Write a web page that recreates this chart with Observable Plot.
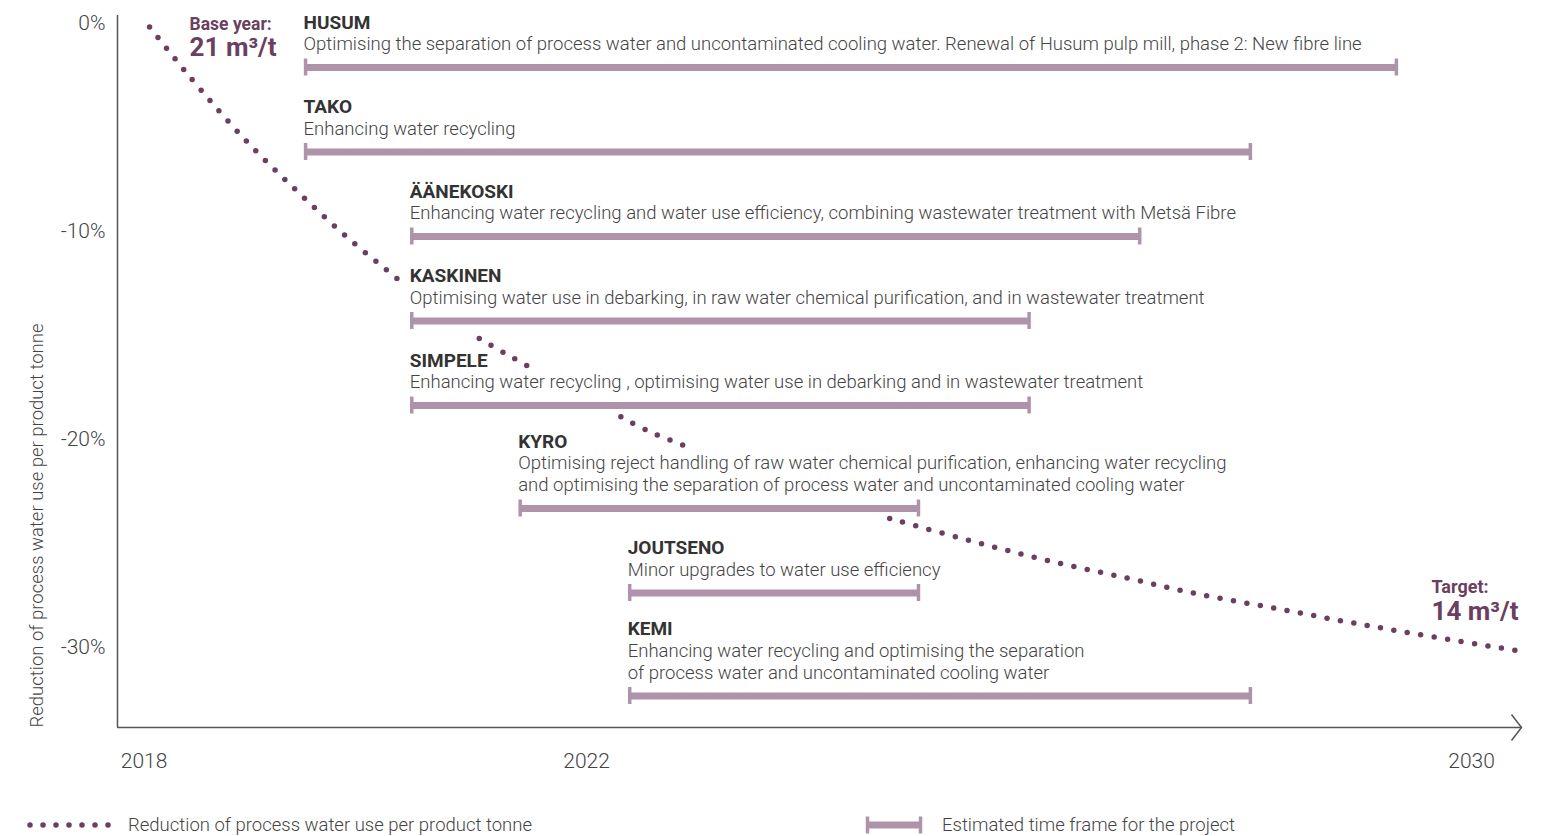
<!DOCTYPE html>
<html><head><meta charset="utf-8">
<script src="https://cdn.jsdelivr.net/npm/d3@7"></script>
<script src="https://cdn.jsdelivr.net/npm/@observablehq/plot@0.6"></script>
<style>
body{margin:0;background:#fff;font-family:Roboto, sans-serif;}
#chart{position:absolute;left:0;top:0;}
.leg{position:absolute;top:812px;height:26px;display:flex;align-items:center;font-size:18.5px;font-weight:300;color:#444;font-family:Roboto,sans-serif;}
</style></head><body>
<div id="chart"></div>
<div class="leg" style="left:24px"><svg width="100" height="26" style="margin-right:4px"><line x1="6" x2="96" y1="13" y2="13" stroke="#6b3f60" stroke-width="5.5" stroke-linecap="round" stroke-dasharray="0 13"/></svg>Reduction of process water use per product tonne</div>
<div class="leg" style="left:862px"><svg width="80" height="26"><line x1="5.5" x2="58.5" y1="13" y2="13" stroke="#ae93aa" stroke-width="7"/><line x1="5.5" x2="5.5" y1="4.5" y2="21.5" stroke="#ae93aa" stroke-width="3.5"/><line x1="58.5" x2="58.5" y1="4.5" y2="21.5" stroke="#ae93aa" stroke-width="3.5"/></svg>Estimated time frame for the project</div>
<script>
// Reduction curve (year, % change), segments separated where the chart leaves gaps
const curveSegment = [1,1,1,1,1,1,1, 2,2,2, 3,3,3, 4,4,4,4,4,4,4,4,4];
const curveYear = [2018.05,2018.28,2018.52,2018.93,2019.37,2019.82,2020.30,
  2021.03,2021.25,2021.46,
  2022.31,2022.55,2022.91,
  2024.74,2025.46,2026.17,2026.90,2027.50,2028.23,2028.95,2029.68,2030.46];
const curveValue = [-0.2,-1.73,-3.26,-5.71,-8.02,-10.23,-12.34,
  -15.17,-15.84,-16.47,
  -18.92,-19.59,-20.36,
  -23.81,-24.87,-25.83,-26.69,-27.41,-28.13,-28.85,-29.52,-30.20];

// Projects
const projectName = ["HUSUM","TAKO","ÄÄNEKOSKI","KASKINEN","SIMPELE","KYRO","JOUTSENO","KEMI"];
const projectStart = [2019.46,2019.46,2020.42,2020.42,2020.42,2021.40,2022.39,2022.39];
const projectEnd = [2029.32,2028.0,2027.0,2026.0,2026.0,2025.0,2025.0,2028.0];
const projectDesc = [
  ["Optimising the separation of process water and uncontaminated cooling water. Renewal of Husum pulp mill, phase 2: New fibre line"],
  ["Enhancing water recycling"],
  ["Enhancing water recycling and water use efficiency, combining wastewater treatment with Metsä Fibre"],
  ["Optimising water use in debarking, in raw water chemical purification, and in wastewater treatment"],
  ["Enhancing water recycling , optimising water use in debarking and in wastewater treatment"],
  ["Optimising reject handling of raw water chemical purification, enhancing water recycling","and optimising the separation of process water and uncontaminated cooling water"],
  ["Minor upgrades to water use efficiency"],
  ["Enhancing water recycling and optimising the separation","of process water and uncontaminated cooling water"]
];

const yTicks = [0,-10,-20,-30];
const xTicks = [2018,2022,2030];
const baseLabel = ["Base year:","21 m³/t"];
const targetLabel = ["Target:","14 m³/t"];
const yLabel = "Reduction of process water use per product tonne";

// Layout
const W = 1546, H = 800;
const mL = 117, mR = 24, mT = 15, mB = 73;
const xDomain = [2017.76, 2030.46];
const yDomain = [-33.85, 0.35];
const DOT = "#6b3f60", BAR = "#ae93aa";

// Same linear map as the plot's y scale, used to lay rows and their text lines out in pixels
const yMap = d3.scaleLinear().domain(yDomain).range([H - mB, mT]);
const shift = (v, p) => yMap.invert(yMap(v) + p);
let px = 67;
const projects = projectName.map((name, i) => {
  if (i > 0) px += 84.5 + 18.5 * (projectDesc[i].length - 1);
  const row = yMap.invert(px);
  return {name, start: projectStart[i], end: projectEnd[i], desc: projectDesc[i], row,
          titleY: shift(row, -23 - 22 * projectDesc[i].length)};
});
const descLines = projects.flatMap(p => p.desc.map((t, k) => ({x: p.start, y: shift(p.row, -23 - 22 * (p.desc.length - 1 - k)), text: t})));

const curve = curveYear.map((x, i) => ({x, y: curveValue[i], seg: curveSegment[i]}));
const first = curve[0], last = curve[curve.length - 1];

const chevron = {draw(ctx) { ctx.moveTo(-10, -13); ctx.lineTo(0, 0); ctx.lineTo(-10, 13); }};

const chart = Plot.plot({
  width: W, height: H,
  marginLeft: mL, marginRight: mR, marginTop: mT, marginBottom: mB,
  style: {fontFamily: "Roboto, sans-serif", background: "white"},
  x: {domain: xDomain, label: null},
  y: {domain: yDomain, label: null},
  marks: [
    Plot.axisX({ticks: xTicks, tickFormat: d => String(d), tickSize: 0, tickPadding: 26, fontSize: 21, fontWeight: 300, fill: "#444", label: null}),
    Plot.axisY({ticks: yTicks, tickFormat: d => `${d}%`, tickSize: 0, tickPadding: 12, fontSize: 21, fontWeight: 300, fill: "#444", label: null}),
    Plot.ruleX([xDomain[0]], {stroke: "#555", strokeWidth: 1.5}),
    Plot.ruleY([yDomain[0]], {stroke: "#555", strokeWidth: 1.5}),
    Plot.dot([{x: xDomain[1], y: yDomain[0]}], {x: "x", y: "y", symbol: chevron, fill: "none", stroke: "#555", strokeWidth: 1.5, dx: -1}),
    Plot.text([yLabel], {x: () => xDomain[0], y: () => yDomain[0], text: d => d, rotate: -90, textAnchor: "start", dx: -80, fontSize: 18.5, fontWeight: 300, fill: "#444"}),
    // project bars
    Plot.ruleY(projects, {y: "row", x1: "start", x2: "end", stroke: BAR, strokeWidth: 7}),
    Plot.ruleX(projects, {x: "start", y1: "row", y2: "row", insetTop: -8.5, insetBottom: -8.5, stroke: BAR, strokeWidth: 3.5}),
    Plot.ruleX(projects, {x: "end", y1: "row", y2: "row", insetTop: -8.5, insetBottom: -8.5, stroke: BAR, strokeWidth: 3.5}),
    Plot.text(projects, {x: "start", y: "titleY", text: "name", textAnchor: "start", dx: -2, fontSize: 19, fontWeight: 700, fill: "#333"}),
    Plot.text(descLines, {x: "x", y: "y", text: "text", textAnchor: "start", dx: -2, fontSize: 18.5, fontWeight: 300, fill: "#444"}),
    // reduction curve
    Plot.line(curve, {x: "x", y: "y", z: "seg", curve: "catmull-rom", stroke: DOT, strokeWidth: 5.5, strokeLinecap: "round", strokeDasharray: "0 13.6"}),
    Plot.text([baseLabel[0]], {x: () => first.x, y: () => first.y, text: d => d, textAnchor: "start", dx: 40, dy: -3, fontSize: 17.5, fontWeight: 700, fill: DOT}),
    Plot.text([baseLabel[1]], {x: () => first.x, y: () => first.y, text: d => d, textAnchor: "start", dx: 40, dy: 21, fontSize: 26, fontWeight: 700, fill: DOT}),
    Plot.text([targetLabel[0]], {x: () => last.x, y: () => last.y, text: d => d, textAnchor: "start", dx: -91, dy: -64, fontSize: 18, fontWeight: 700, fill: DOT}),
    Plot.text([targetLabel[1]], {x: () => last.x, y: () => last.y, text: d => d, textAnchor: "start", dx: -91, dy: -40, fontSize: 26, fontWeight: 700, fill: DOT})
  ]
});
document.getElementById("chart").appendChild(chart);
</script>
</body></html>
